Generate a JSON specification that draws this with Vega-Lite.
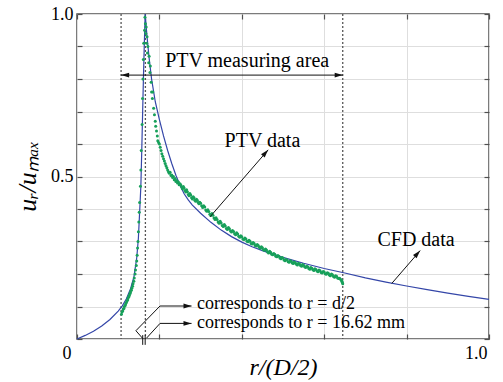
{
  "$schema": "https://vega.github.io/schema/vega-lite/v6.json",
  "width": 412,
  "height": 325,
  "autosize": {"type": "none"},
  "padding": {"left": 77, "top": 14, "right": 14, "bottom": 43},
  "background": "white",
  "config": {
    "view": {"stroke": "#505050", "strokeWidth": 1.5},
    "font": "Liberation Serif",
    "axis": {
      "domain": false,
      "tickColor": "#505050",
      "tickWidth": 1.2,
      "gridColor": "#dedede",
      "gridWidth": 1,
      "labelFont": "Liberation Serif",
      "titleFont": "Liberation Serif",
      "labelColor": "#000000",
      "titleColor": "#000000",
      "labelFontSize": 18,
      "titleFontWeight": "normal"
    }
  },
  "datasets": {
    "cfd": [
      {"x": 0, "y": 0}, {"x": 0.02, "y": 0.011}, {"x": 0.04, "y": 0.024}, {"x": 0.06, "y": 0.04},
      {"x": 0.08, "y": 0.06}, {"x": 0.10, "y": 0.086}, {"x": 0.11, "y": 0.102}, {"x": 0.12, "y": 0.124},
      {"x": 0.13, "y": 0.155}, {"x": 0.138, "y": 0.19}, {"x": 0.145, "y": 0.25}, {"x": 0.149, "y": 0.31},
      {"x": 0.152, "y": 0.39}, {"x": 0.155, "y": 0.47}, {"x": 0.157, "y": 0.57}, {"x": 0.159, "y": 0.68},
      {"x": 0.161, "y": 0.79}, {"x": 0.163, "y": 0.89}, {"x": 0.1655, "y": 1.0}, {"x": 0.170, "y": 0.93},
      {"x": 0.175, "y": 0.865}, {"x": 0.181, "y": 0.80}, {"x": 0.19, "y": 0.73}, {"x": 0.20, "y": 0.675},
      {"x": 0.21, "y": 0.625}, {"x": 0.22, "y": 0.58}, {"x": 0.23, "y": 0.54}, {"x": 0.24, "y": 0.504},
      {"x": 0.25, "y": 0.473}, {"x": 0.26, "y": 0.447}, {"x": 0.27, "y": 0.428}, {"x": 0.28, "y": 0.412}, {"x": 0.30, "y": 0.387},
      {"x": 0.325, "y": 0.359}, {"x": 0.35, "y": 0.335}, {"x": 0.375, "y": 0.315}, {"x": 0.40, "y": 0.298},
      {"x": 0.425, "y": 0.284}, {"x": 0.45, "y": 0.272}, {"x": 0.475, "y": 0.261}, {"x": 0.50, "y": 0.251},
      {"x": 0.55, "y": 0.233}, {"x": 0.60, "y": 0.217}, {"x": 0.65, "y": 0.203}, {"x": 0.70, "y": 0.188},
      {"x": 0.75, "y": 0.175}, {"x": 0.80, "y": 0.163}, {"x": 0.85, "y": 0.152}, {"x": 0.90, "y": 0.141},
      {"x": 0.95, "y": 0.131}, {"x": 1.00, "y": 0.122}
    ],
    "ptv": [
      {"x": 0.108, "y": 0.076}, {"x": 0.109, "y": 0.083}, {"x": 0.111, "y": 0.086}, {"x": 0.112, "y": 0.092},
      {"x": 0.114, "y": 0.094}, {"x": 0.115, "y": 0.1}, {"x": 0.117, "y": 0.103}, {"x": 0.118, "y": 0.108},
      {"x": 0.12, "y": 0.112}, {"x": 0.121, "y": 0.117}, {"x": 0.123, "y": 0.12}, {"x": 0.124, "y": 0.126},
      {"x": 0.126, "y": 0.13}, {"x": 0.127, "y": 0.135}, {"x": 0.129, "y": 0.14}, {"x": 0.13, "y": 0.145},
      {"x": 0.132, "y": 0.15}, {"x": 0.133, "y": 0.156}, {"x": 0.135, "y": 0.162}, {"x": 0.136, "y": 0.17},
      {"x": 0.138, "y": 0.178}, {"x": 0.139, "y": 0.188}, {"x": 0.141, "y": 0.2}, {"x": 0.142, "y": 0.212},
      {"x": 0.144, "y": 0.226}, {"x": 0.145, "y": 0.24}, {"x": 0.146, "y": 0.258}, {"x": 0.147, "y": 0.28},
      {"x": 0.148, "y": 0.3}, {"x": 0.149, "y": 0.33}, {"x": 0.15, "y": 0.36}, {"x": 0.151, "y": 0.39},
      {"x": 0.152, "y": 0.42}, {"x": 0.154, "y": 0.47}, {"x": 0.155, "y": 0.52}, {"x": 0.156, "y": 0.58},
      {"x": 0.158, "y": 0.66}, {"x": 0.159, "y": 0.74}, {"x": 0.16, "y": 0.8}, {"x": 0.161, "y": 0.86},
      {"x": 0.162, "y": 0.91}, {"x": 0.164, "y": 0.95}, {"x": 0.165, "y": 0.99},
      {"x": 0.166, "y": 0.97}, {"x": 0.167, "y": 0.94}, {"x": 0.168, "y": 0.96}, {"x": 0.169, "y": 0.91},
      {"x": 0.17, "y": 0.93}, {"x": 0.171, "y": 0.88}, {"x": 0.172, "y": 0.9}, {"x": 0.174, "y": 0.85},
      {"x": 0.175, "y": 0.87}, {"x": 0.177, "y": 0.82}, {"x": 0.178, "y": 0.84}, {"x": 0.18, "y": 0.79},
      {"x": 0.181, "y": 0.76}, {"x": 0.183, "y": 0.74}, {"x": 0.184, "y": 0.76}, {"x": 0.186, "y": 0.71},
      {"x": 0.188, "y": 0.69}, {"x": 0.19, "y": 0.67}, {"x": 0.191, "y": 0.655}, {"x": 0.193, "y": 0.64},
      {"x": 0.195, "y": 0.625}, {"x": 0.196, "y": 0.61}, {"x": 0.198, "y": 0.605},
      {"x": 0.2, "y": 0.6}, {"x": 0.202, "y": 0.59}, {"x": 0.204, "y": 0.58}, {"x": 0.206, "y": 0.57},
      {"x": 0.208, "y": 0.562}, {"x": 0.21, "y": 0.555}, {"x": 0.212, "y": 0.548}, {"x": 0.214, "y": 0.54},
      {"x": 0.216, "y": 0.533}, {"x": 0.218, "y": 0.527}, {"x": 0.22, "y": 0.52}, {"x": 0.222, "y": 0.515},
      {"x": 0.224, "y": 0.51}, {"x": 0.226, "y": 0.513}, {"x": 0.228, "y": 0.503}, {"x": 0.23, "y": 0.505},
      {"x": 0.232, "y": 0.497}, {"x": 0.234, "y": 0.5}, {"x": 0.236, "y": 0.49}, {"x": 0.238, "y": 0.494},
      {"x": 0.24, "y": 0.485}, {"x": 0.242, "y": 0.488}, {"x": 0.244, "y": 0.48}, {"x": 0.246, "y": 0.483},
      {"x": 0.248, "y": 0.475}, {"x": 0.25, "y": 0.478},
      {"x": 0.252, "y": 0.474}, {"x": 0.254, "y": 0.468}, {"x": 0.256, "y": 0.462}, {"x": 0.258, "y": 0.469}, {"x": 0.26, "y": 0.465}, {"x": 0.262, "y": 0.457}, {"x": 0.264, "y": 0.452},
      {"x": 0.266, "y": 0.459}, {"x": 0.268, "y": 0.453}, {"x": 0.27, "y": 0.445}, {"x": 0.272, "y": 0.441}, {"x": 0.274, "y": 0.448}, {"x": 0.276, "y": 0.443}, {"x": 0.278, "y": 0.435}, {"x": 0.28, "y": 0.431},
      {"x": 0.282, "y": 0.438}, {"x": 0.284, "y": 0.435}, {"x": 0.286, "y": 0.427}, {"x": 0.288, "y": 0.424}, {"x": 0.29, "y": 0.43}, {"x": 0.292, "y": 0.427}, {"x": 0.294, "y": 0.42}, {"x": 0.296, "y": 0.416},
      {"x": 0.298, "y": 0.421}, {"x": 0.30, "y": 0.418}, {"x": 0.3025, "y": 0.41}, {"x": 0.305, "y": 0.405}, {"x": 0.3075, "y": 0.41}, {"x": 0.31, "y": 0.406}, {"x": 0.3125, "y": 0.397}, {"x": 0.315, "y": 0.393},
      {"x": 0.3175, "y": 0.398}, {"x": 0.32, "y": 0.392}, {"x": 0.3225, "y": 0.384}, {"x": 0.325, "y": 0.38}, {"x": 0.3275, "y": 0.386}, {"x": 0.33, "y": 0.381}, {"x": 0.3325, "y": 0.372}, {"x": 0.335, "y": 0.368},
      {"x": 0.3375, "y": 0.373}, {"x": 0.34, "y": 0.368}, {"x": 0.3425, "y": 0.36}, {"x": 0.345, "y": 0.356}, {"x": 0.3475, "y": 0.362}, {"x": 0.35, "y": 0.357}, {"x": 0.3525, "y": 0.349}, {"x": 0.355, "y": 0.346},
      {"x": 0.3575, "y": 0.352}, {"x": 0.36, "y": 0.348}, {"x": 0.3625, "y": 0.34}, {"x": 0.365, "y": 0.337}, {"x": 0.3675, "y": 0.343}, {"x": 0.37, "y": 0.339}, {"x": 0.3725, "y": 0.332}, {"x": 0.375, "y": 0.329},
      {"x": 0.3775, "y": 0.334}, {"x": 0.38, "y": 0.331}, {"x": 0.3825, "y": 0.324}, {"x": 0.385, "y": 0.321}, {"x": 0.3875, "y": 0.327}, {"x": 0.39, "y": 0.323}, {"x": 0.3925, "y": 0.316}, {"x": 0.395, "y": 0.313},
      {"x": 0.3975, "y": 0.318}, {"x": 0.40, "y": 0.315}, {"x": 0.4025, "y": 0.308}, {"x": 0.405, "y": 0.306}, {"x": 0.4075, "y": 0.311}, {"x": 0.41, "y": 0.308}, {"x": 0.4125, "y": 0.301}, {"x": 0.415, "y": 0.299},
      {"x": 0.4175, "y": 0.304}, {"x": 0.42, "y": 0.301}, {"x": 0.4225, "y": 0.294}, {"x": 0.425, "y": 0.292}, {"x": 0.4275, "y": 0.297}, {"x": 0.43, "y": 0.294}, {"x": 0.4325, "y": 0.288}, {"x": 0.435, "y": 0.286},
      {"x": 0.4375, "y": 0.291}, {"x": 0.44, "y": 0.288}, {"x": 0.4425, "y": 0.282}, {"x": 0.445, "y": 0.279}, {"x": 0.4475, "y": 0.284}, {"x": 0.45, "y": 0.281}, {"x": 0.4525, "y": 0.275}, {"x": 0.455, "y": 0.273},
      {"x": 0.4575, "y": 0.277}, {"x": 0.46, "y": 0.274}, {"x": 0.4625, "y": 0.268}, {"x": 0.465, "y": 0.265}, {"x": 0.4675, "y": 0.27}, {"x": 0.47, "y": 0.267}, {"x": 0.4725, "y": 0.261}, {"x": 0.475, "y": 0.259},
      {"x": 0.4775, "y": 0.263}, {"x": 0.48, "y": 0.261}, {"x": 0.4825, "y": 0.255}, {"x": 0.485, "y": 0.253}, {"x": 0.4875, "y": 0.257}, {"x": 0.49, "y": 0.255}, {"x": 0.4925, "y": 0.249}, {"x": 0.495, "y": 0.247},
      {"x": 0.4975, "y": 0.251}, {"x": 0.50, "y": 0.249}, {"x": 0.5025, "y": 0.243}, {"x": 0.505, "y": 0.241}, {"x": 0.5075, "y": 0.245}, {"x": 0.51, "y": 0.243}, {"x": 0.5125, "y": 0.238}, {"x": 0.515, "y": 0.236},
      {"x": 0.5175, "y": 0.241}, {"x": 0.52, "y": 0.239}, {"x": 0.5225, "y": 0.234}, {"x": 0.525, "y": 0.232}, {"x": 0.5275, "y": 0.237}, {"x": 0.53, "y": 0.235}, {"x": 0.5325, "y": 0.23}, {"x": 0.535, "y": 0.228},
      {"x": 0.5375, "y": 0.233}, {"x": 0.54, "y": 0.231}, {"x": 0.5425, "y": 0.226}, {"x": 0.545, "y": 0.224}, {"x": 0.5475, "y": 0.229}, {"x": 0.55, "y": 0.227}, {"x": 0.5525, "y": 0.222}, {"x": 0.555, "y": 0.22},
      {"x": 0.5575, "y": 0.224}, {"x": 0.56, "y": 0.222}, {"x": 0.5625, "y": 0.217}, {"x": 0.565, "y": 0.215}, {"x": 0.5675, "y": 0.22}, {"x": 0.57, "y": 0.218}, {"x": 0.5725, "y": 0.213}, {"x": 0.575, "y": 0.211},
      {"x": 0.5775, "y": 0.216}, {"x": 0.58, "y": 0.214}, {"x": 0.5825, "y": 0.209}, {"x": 0.585, "y": 0.207}, {"x": 0.5875, "y": 0.212}, {"x": 0.59, "y": 0.21}, {"x": 0.5925, "y": 0.205}, {"x": 0.595, "y": 0.203},
      {"x": 0.5975, "y": 0.208}, {"x": 0.60, "y": 0.206}, {"x": 0.6025, "y": 0.201}, {"x": 0.605, "y": 0.199}, {"x": 0.6075, "y": 0.204}, {"x": 0.61, "y": 0.202}, {"x": 0.6125, "y": 0.197}, {"x": 0.615, "y": 0.195},
      {"x": 0.6175, "y": 0.2}, {"x": 0.62, "y": 0.198}, {"x": 0.6225, "y": 0.192}, {"x": 0.625, "y": 0.19}, {"x": 0.6275, "y": 0.195}, {"x": 0.63, "y": 0.193}, {"x": 0.6325, "y": 0.188}, {"x": 0.635, "y": 0.186},
      {"x": 0.6375, "y": 0.187}, {"x": 0.64, "y": 0.183}, {"x": 0.642, "y": 0.181}, {"x": 0.643, "y": 0.178}, {"x": 0.644, "y": 0.174}, {"x": 0.645, "y": 0.17}
    ],
    "vlines": [{"x": 0.107}, {"x": 0.166}, {"x": 0.645}],
    "segs": [
      {"id": "m", "o": 0, "x": 0.107, "y": 0.812}, {"id": "m", "o": 1, "x": 0.645, "y": 0.812},
      {"id": "p", "o": 0, "x": 0.323, "y": 0.376}, {"id": "p", "o": 1, "x": 0.464, "y": 0.582},
      {"id": "c", "o": 0, "x": 0.764, "y": 0.171}, {"id": "c", "o": 1, "x": 0.833, "y": 0.272},
      {"id": "l1", "o": 0, "x": 0.278, "y": 0.1015}, {"id": "l1", "o": 1, "x": 0.2015, "y": 0.1015},
      {"id": "l1", "o": 2, "x": 0.143, "y": 0.0255}, {"id": "l1", "o": 3, "x": 0.160, "y": 0.001},
      {"id": "l2", "o": 0, "x": 0.278, "y": 0.048}, {"id": "l2", "o": 1, "x": 0.2015, "y": 0.048},
      {"id": "l2", "o": 2, "x": 0.169, "y": 0.003}
    ],
    "heads": [
      {"x": 0.107, "y": 0.812, "a": 180}, {"x": 0.645, "y": 0.812, "a": 0},
      {"x": 0.464, "y": 0.582, "a": 311}, {"x": 0.833, "y": 0.272, "a": 312},
      {"x": 0.278, "y": 0.1015, "a": 0}, {"x": 0.278, "y": 0.048, "a": 0}
    ],
    "marks2": [
      {"x": 0.1595, "y": -0.018, "y2": 0.012}, {"x": 0.1655, "y": -0.018, "y2": 0.012}
    ],
    "ctext": [
      {"x": 0.413, "y": 0.838, "t": "PTV measuring area"},
      {"x": 0.45, "y": 0.592, "t": "PTV data"},
      {"x": 0.823, "y": 0.285, "t": "CFD data"}
    ],
    "ltext": [
      {"x": 0.291, "y": 0.092, "t": "corresponds to r = d/2"},
      {"x": 0.291, "y": 0.034, "t": "corresponds to r = 16.62 mm"}
    ]
  },
  "resolve": {"axis": {"x": "independent", "y": "independent"}},
  "layer": [
    {
      "data": {"name": "vlines"},
      "mark": {"type": "rule", "color": "#555555", "strokeWidth": 1.3, "strokeDash": [2, 2]},
      "encoding": {
        "x": {"field": "x", "type": "quantitative", "scale": {"domain": [0, 1], "nice": false, "zero": false}, "axis": null}
      }
    },
    {
      "data": {"name": "cfd"},
      "mark": {"type": "line", "color": "#3446a8", "strokeWidth": 1.2},
      "encoding": {
        "x": {
          "field": "x", "type": "quantitative",
          "scale": {"domain": [0, 1], "nice": false, "zero": false},
          "axis": {
            "orient": "bottom",
            "values": [0, 0.2, 0.4, 0.6, 0.8, 1],
            "labelExpr": "datum.value === 0 ? '0' : (datum.value === 1 ? '1.0' : '')",
            "labelOffset": {"condition": {"test": "datum.value === 0", "value": -15}, "value": -2},
            "labelPadding": 10,
            "tickSize": -5,
            "grid": true,
            "title": "r/(D/2)",
            "titleFontSize": 24,
            "titleFontStyle": "italic",
            "titleY": 35,
            "titleBaseline": "alphabetic"
          }
        },
        "y": {
          "field": "y", "type": "quantitative",
          "scale": {"domain": [0, 1], "nice": false, "zero": false},
          "axis": {
            "orient": "left",
            "values": [0, 0.1, 0.2, 0.3, 0.4, 0.5, 0.6, 0.7, 0.8, 0.9, 1],
            "labelExpr": "datum.value === 0.5 ? '0.5' : (datum.value === 1 ? '1.0' : '')",
            "labelPadding": 9,
            "tickSize": -5,
            "grid": true,
            "title": "uᵣ/uₘₐₓ",
            "titleFontSize": 26,
            "titleFontStyle": "italic",
            "titleAngle": -90,
            "titleX": -42,
            "titleY": 162,
            "titleAlign": "center",
            "titleBaseline": "alphabetic"
          }
        }
      }
    },
    {
      "data": {"name": "ptv"},
      "mark": {"type": "point", "shape": "circle", "filled": true, "color": "#17a05a", "size": 9, "opacity": 1},
      "encoding": {
        "x": {
          "field": "x", "type": "quantitative",
          "scale": {"domain": [0, 1], "nice": false, "zero": false},
          "axis": {"orient": "top", "values": [0, 0.2, 0.4, 0.6, 0.8, 1], "labels": false, "tickSize": -5, "grid": false, "title": null}
        },
        "y": {
          "field": "y", "type": "quantitative",
          "scale": {"domain": [0, 1], "nice": false, "zero": false},
          "axis": {"orient": "right", "values": [0, 0.1, 0.2, 0.3, 0.4, 0.5, 0.6, 0.7, 0.8, 0.9, 1], "labels": false, "tickSize": -5, "grid": false, "title": null}
        }
      }
    },
    {
      "data": {"name": "segs"},
      "mark": {"type": "line", "color": "#111111", "strokeWidth": 1},
      "encoding": {
        "x": {"field": "x", "type": "quantitative", "axis": null},
        "y": {"field": "y", "type": "quantitative", "axis": null},
        "detail": {"field": "id", "type": "nominal"},
        "order": {"field": "o", "type": "quantitative"}
      }
    },
    {
      "data": {"name": "marks2"},
      "mark": {"type": "rule", "color": "#111111", "strokeWidth": 1},
      "encoding": {
        "x": {"field": "x", "type": "quantitative", "axis": null},
        "y": {"field": "y", "type": "quantitative", "axis": null},
        "y2": {"field": "y2"}
      }
    },
    {
      "data": {"name": "heads"},
      "mark": {"type": "point", "shape": "M0,0L-1,-0.3L-1,0.3Z", "filled": true, "color": "#111111", "size": 260, "opacity": 1},
      "encoding": {
        "x": {"field": "x", "type": "quantitative", "axis": null},
        "y": {"field": "y", "type": "quantitative", "axis": null},
        "angle": {"field": "a", "type": "quantitative", "scale": null}
      }
    },
    {
      "data": {"name": "ctext"},
      "mark": {"type": "text", "font": "Liberation Serif", "fontSize": 20, "align": "center", "baseline": "alphabetic", "color": "#000000"},
      "encoding": {
        "x": {"field": "x", "type": "quantitative", "axis": null},
        "y": {"field": "y", "type": "quantitative", "axis": null},
        "text": {"field": "t"}
      }
    },
    {
      "data": {"name": "ltext"},
      "mark": {"type": "text", "font": "Liberation Serif", "fontSize": 18, "align": "left", "baseline": "alphabetic", "color": "#000000"},
      "encoding": {
        "x": {"field": "x", "type": "quantitative", "axis": null},
        "y": {"field": "y", "type": "quantitative", "axis": null},
        "text": {"field": "t"}
      }
    }
  ]
}
